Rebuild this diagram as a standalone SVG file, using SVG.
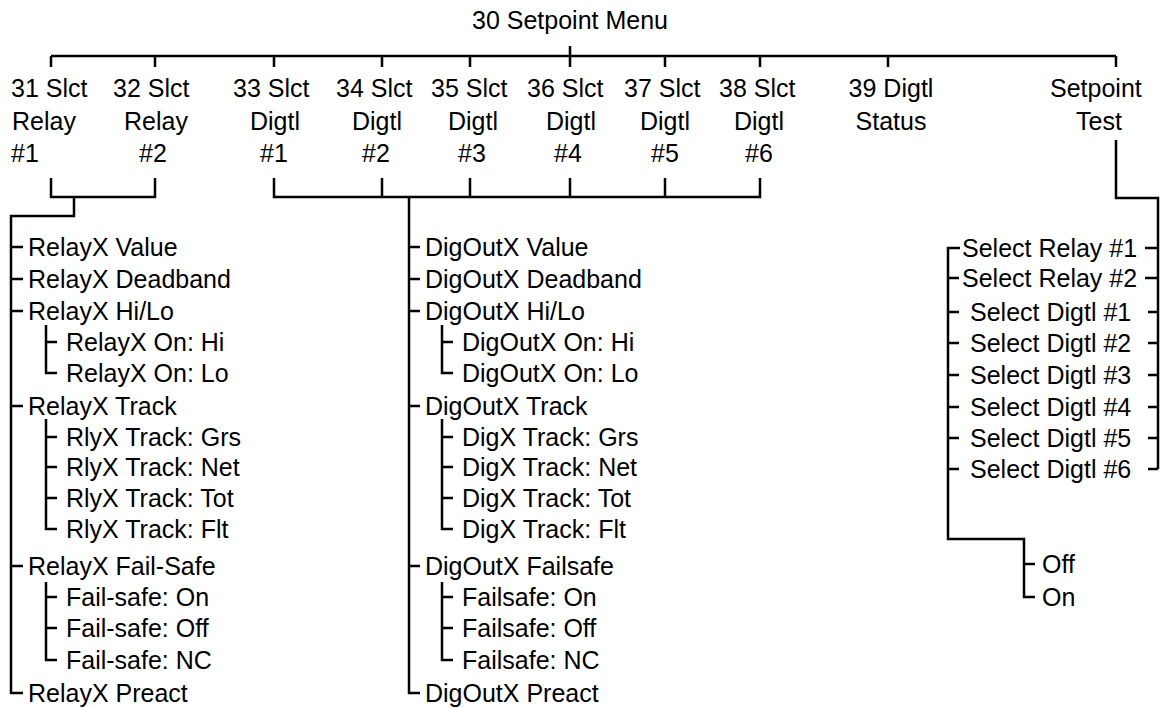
<svg xmlns="http://www.w3.org/2000/svg" width="1160" height="708" viewBox="0 0 1160 708">
<style>
.t{font-family:"Liberation Sans",Arial,Helvetica,sans-serif;font-size:25px;fill:#000}
.m{text-anchor:middle}
.c{fill:none;stroke:#000;stroke-width:2.5;stroke-linejoin:miter}
</style>
<rect width="1160" height="708" fill="#fff"/>
<g id="connectors" class="c">
<path d="M570,46V56M51,56H1116M51,56V67M155,56V67M274,56V67M382,56V67M470,56V67M570,56V67M665,56V67M760,56V67M888,56V67M1116,56V67"/>
<path d="M51,178V197H155V178M74,197V216H11V693H23"/>
<path d="M11,247H23M11,279H23M11,311H23M11,406H23M11,566H23"/>
<path d="M46,325V373H57M46,342H57M46,419V529H57M46,437H57M46,467H57M46,498H57M46,582V660H57M46,597H57M46,628H57"/>
<path d="M274,178V197H760V178M382,178V197M470,178V197M570,178V197M665,178V197M409,197V693H420"/>
<path d="M409,247H420M409,279H420M409,311H420M409,406H420M409,566H420"/>
<path d="M442,325V373H453M442,342H453M442,419V529H453M442,437H453M442,467H453M442,498H453M442,582V660H453M442,597H453M442,628H453"/>
<path d="M1116,140V198H1158V469M1145,248H1158M1145,278H1158M1148,312H1158M1148,343H1158M1148,375H1158M1148,407H1158M1148,438H1158M1148,469H1158"/>
<path d="M960,248H948V539H1024V597H1035M1024,564H1035M948,278H959M948,312H959M948,343H959M948,375H959M948,407H959M948,438H959M948,469H959"/>
</g>
<g id="n30"><text class="t m" x="570" y="29">30 Setpoint Menu</text></g>
<g id="n31"><text class="t" x="11" y="97">31 Slct</text><text class="t" x="12" y="130">Relay</text><text class="t" x="11" y="162">#1</text></g>
<g id="n32"><text class="t" x="113" y="97">32 Slct</text><text class="t" x="124" y="130">Relay</text><text class="t" x="139" y="162">#2</text></g>
<g id="n33"><text class="t" x="233" y="97">33 Slct</text><text class="t" x="250" y="130">Digtl</text><text class="t" x="260" y="162">#1</text></g>
<g id="n34"><text class="t" x="336" y="97">34 Slct</text><text class="t" x="352" y="130">Digtl</text><text class="t" x="362" y="162">#2</text></g>
<g id="n35"><text class="t" x="431" y="97">35 Slct</text><text class="t" x="448" y="130">Digtl</text><text class="t" x="458" y="162">#3</text></g>
<g id="n36"><text class="t" x="527" y="97">36 Slct</text><text class="t" x="546" y="130">Digtl</text><text class="t" x="554" y="162">#4</text></g>
<g id="n37"><text class="t" x="624" y="97">37 Slct</text><text class="t" x="640" y="130">Digtl</text><text class="t" x="651" y="162">#5</text></g>
<g id="n38"><text class="t" x="719" y="97">38 Slct</text><text class="t" x="734" y="130">Digtl</text><text class="t" x="745" y="162">#6</text></g>
<g id="n39"><text class="t m" x="891" y="97">39 Digtl</text><text class="t m" x="891" y="130">Status</text></g>
<g id="nTest"><text class="t" x="1050" y="97">Setpoint</text><text class="t" x="1076" y="130">Test</text></g>
<g id="relay-items">
<text class="t" x="28" y="256">RelayX Value</text>
<text class="t" x="28" y="288">RelayX Deadband</text>
<text class="t" x="28" y="320">RelayX Hi/Lo</text>
<text class="t" x="66" y="351">RelayX On: Hi</text>
<text class="t" x="66" y="382">RelayX On: Lo</text>
<text class="t" x="28" y="415">RelayX Track</text>
<text class="t" x="66" y="446">RlyX Track: Grs</text>
<text class="t" x="66" y="476">RlyX Track: Net</text>
<text class="t" x="66" y="507">RlyX Track: Tot</text>
<text class="t" x="66" y="538">RlyX Track: Flt</text>
<text class="t" x="28" y="575">RelayX Fail-Safe</text>
<text class="t" x="66" y="606">Fail-safe: On</text>
<text class="t" x="66" y="637">Fail-safe: Off</text>
<text class="t" x="66" y="669">Fail-safe: NC</text>
<text class="t" x="28" y="702">RelayX Preact</text>
</g>
<g id="digout-items">
<text class="t" x="425" y="256">DigOutX Value</text>
<text class="t" x="425" y="288">DigOutX Deadband</text>
<text class="t" x="425" y="320">DigOutX Hi/Lo</text>
<text class="t" x="462" y="351">DigOutX On: Hi</text>
<text class="t" x="462" y="382">DigOutX On: Lo</text>
<text class="t" x="425" y="415">DigOutX Track</text>
<text class="t" x="462" y="446">DigX Track: Grs</text>
<text class="t" x="462" y="476">DigX Track: Net</text>
<text class="t" x="462" y="507">DigX Track: Tot</text>
<text class="t" x="462" y="538">DigX Track: Flt</text>
<text class="t" x="425" y="575">DigOutX Failsafe</text>
<text class="t" x="462" y="606">Failsafe: On</text>
<text class="t" x="462" y="637">Failsafe: Off</text>
<text class="t" x="462" y="669">Failsafe: NC</text>
<text class="t" x="425" y="702">DigOutX Preact</text>
</g>
<g id="test-items">
<text class="t" x="962" y="257">Select Relay #1</text>
<text class="t" x="962" y="287">Select Relay #2</text>
<text class="t" x="970" y="321">Select Digtl #1</text>
<text class="t" x="970" y="352">Select Digtl #2</text>
<text class="t" x="970" y="384">Select Digtl #3</text>
<text class="t" x="970" y="416">Select Digtl #4</text>
<text class="t" x="970" y="447">Select Digtl #5</text>
<text class="t" x="970" y="478">Select Digtl #6</text>
</g>
<g id="onoff">
<text class="t" x="1042" y="573">Off</text>
<text class="t" x="1042" y="606">On</text>
</g>
</svg>
